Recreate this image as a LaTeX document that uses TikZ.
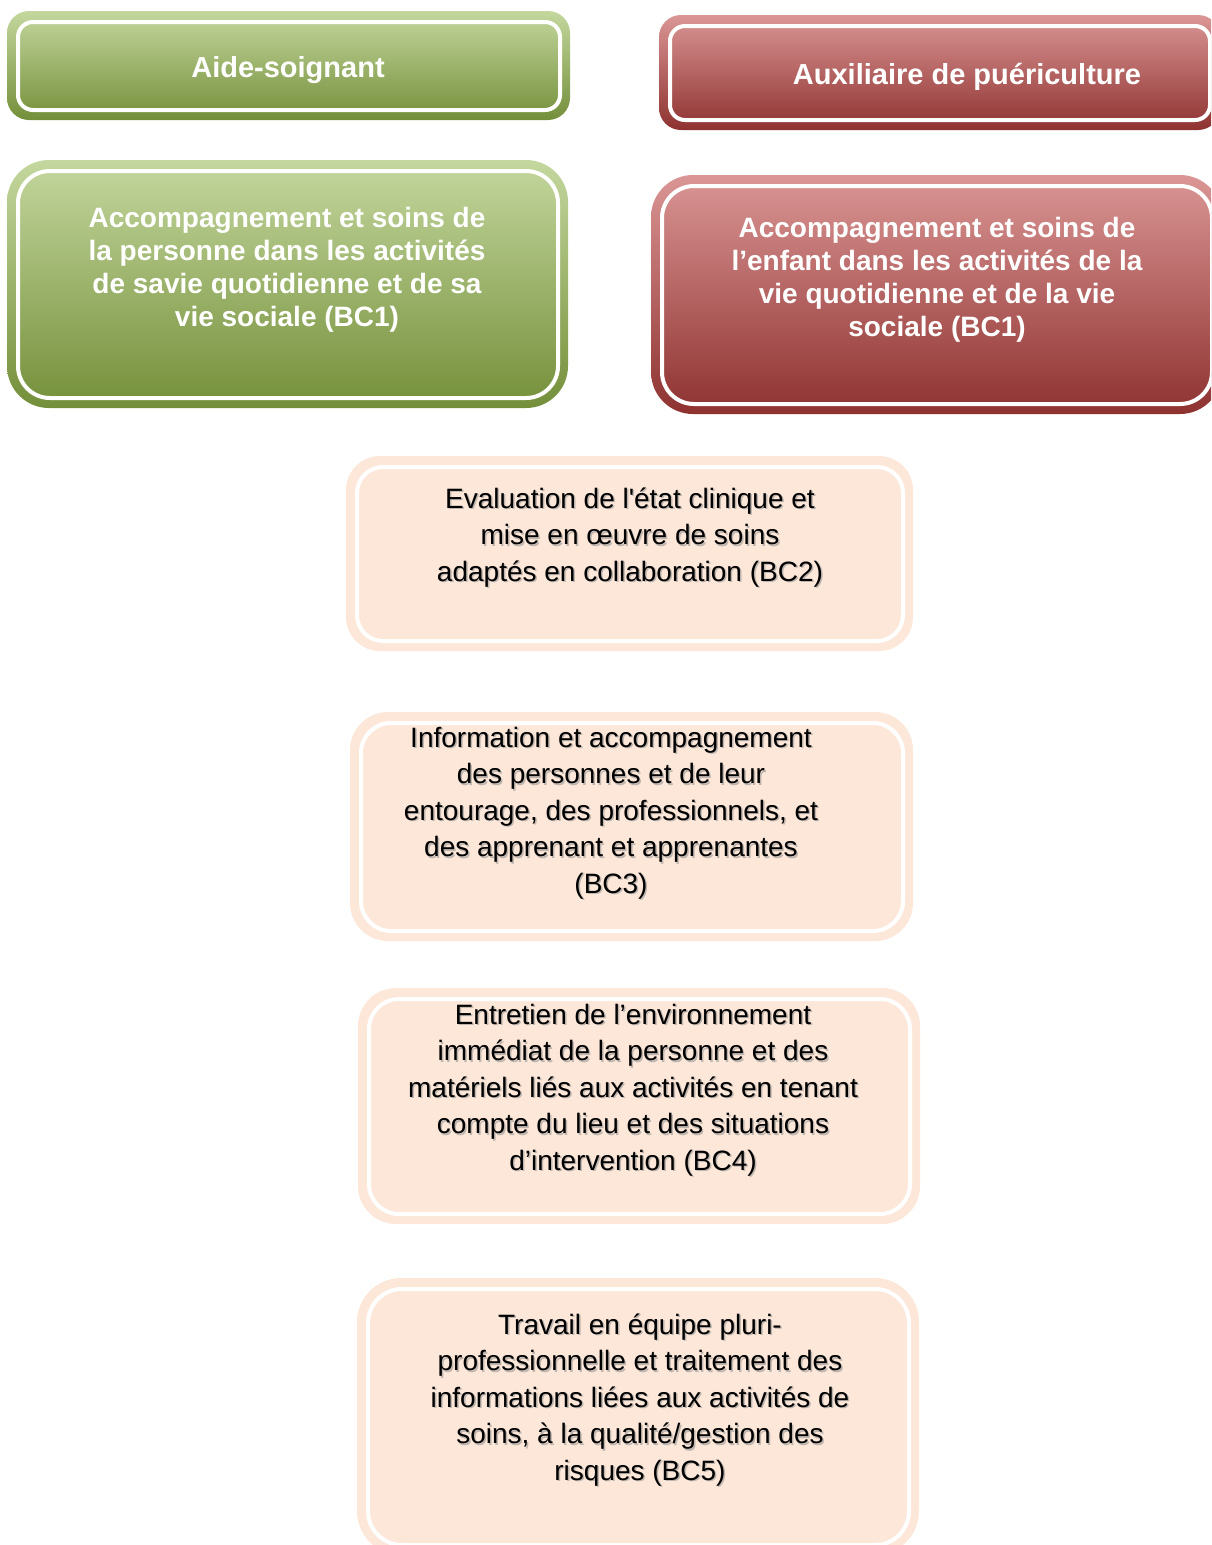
\documentclass[tikz,border=0pt]{standalone}
\usepackage{fontspec}
\setmainfont{Liberation Sans}[Ligatures=TeXOff]
\begin{document}
\begin{tikzpicture}[x=1pt,y=-1pt]
% palette
\definecolor{grnTop}{RGB}{196,215,158}
\definecolor{grnMid}{RGB}{156,187,90}
\definecolor{grnBot}{RGB}{116,143,58}
\definecolor{redTop}{RGB}{218,150,149}
\definecolor{redMid}{RGB}{192,82,79}
\definecolor{redBot}{RGB}{142,50,48}
\definecolor{peach}{RGB}{252,231,217}
\tikzset{
  greenbox/.style={top color=grnTop,middle color=grnMid,bottom color=grnBot},
  redbox/.style={top color=redTop,middle color=redMid,bottom color=redBot},
  peachbox/.style={fill=peach},
  frame/.style={draw=white,line width=4pt},
  headtxt/.style={text=white,font=\bfseries\fontsize{29}{33}\selectfont,align=center,anchor=base,inner sep=0pt},
  bctxt/.style={text=white,font=\bfseries\fontsize{28}{32.7}\selectfont,align=center,anchor=base,inner sep=0pt},
  bodytxt/.style={text=black,font=\fontsize{28}{36.5}\selectfont,align=center,anchor=base,inner sep=0pt},
  shadowtxt/.style={bodytxt,text=black!45,opacity=0.55}
}
% #1 fill style, #2-#5 outer corners, #6 outer radius, #7 inner radius
\newcommand\framedbox[7]{%
  \shade[#1,rounded corners=#6pt] (#2,#3) rectangle (#4,#5);
  \draw[frame,rounded corners=#7pt] (#2+11,#3+11) rectangle (#4-10,#5-10);}
\newcommand\framedfill[7]{%
  \path[#1,rounded corners=#6pt] (#2,#3) rectangle (#4,#5);
  \draw[frame,rounded corners=#7pt] (#2+11,#3+11) rectangle (#4-10,#5-10);}
% text with a soft drop shadow: #1 name, #2 x, #3 baseline of last line, #4 text
\newcommand\shadowed[4]{%
  \node[shadowtxt] (#1s) at (#2+1.5,#3+1.5) {#4};
  \node[bodytxt] (#1) at (#2,#3) {#4};}

\path[use as bounding box] (0,0) rectangle (1211,1545);
\begin{scope}
\clip (0,0) rectangle (1211,1545);

% job titles
\framedbox{greenbox}{7}{11}{570}{120}{22}{15}
\node[headtxt] (as) at (288,77) {Aide-soignant};
\framedbox{redbox}{659}{15}{1220}{130}{22}{15}
\node[headtxt] (ap) at (967,84) {Auxiliaire de puériculture};

% BC1 blocks
\framedbox{greenbox}{7}{160}{568}{408}{42}{32}
\node[bctxt] (bc1a) at (287,326) {Accompagnement et soins de\\la personne dans les activités\\de savie quotidienne et de sa\\vie sociale (BC1)};
\framedbox{redbox}{651}{175}{1222}{414}{42}{32}
\node[bctxt] (bc1b) at (937,336) {Accompagnement et soins de\\l’enfant dans les activités de la\\vie quotidienne et de la vie\\sociale (BC1)};

% shared blocks
\framedfill{peachbox}{346}{456}{913}{651}{34}{26}
\shadowed{bc2}{630}{581}{Evaluation de l'état clinique et\\mise en œuvre de soins\\adaptés en collaboration (BC2)}

\framedfill{peachbox}{350}{712}{913}{941}{38}{30}
\shadowed{bc3}{611}{893}{Information et accompagnement\\des personnes et de leur\\entourage, des professionnels, et\\des apprenant et apprenantes\\(BC3)}

\framedfill{peachbox}{358}{988}{920}{1224}{38}{30}
\shadowed{bc4}{633}{1170}{Entretien de l’environnement\\immédiat de la personne et des\\matériels liés aux activités en tenant\\compte du lieu et des situations\\d’intervention (BC4)}

\framedfill{peachbox}{357}{1278}{919}{1555}{44}{34}
\shadowed{bc5}{640}{1480}{Travail en équipe pluri-\\professionnelle et traitement des\\informations liées aux activités de\\soins, à la qualité/gestion des\\risques (BC5)}
\end{scope}
\end{tikzpicture}
\end{document}
